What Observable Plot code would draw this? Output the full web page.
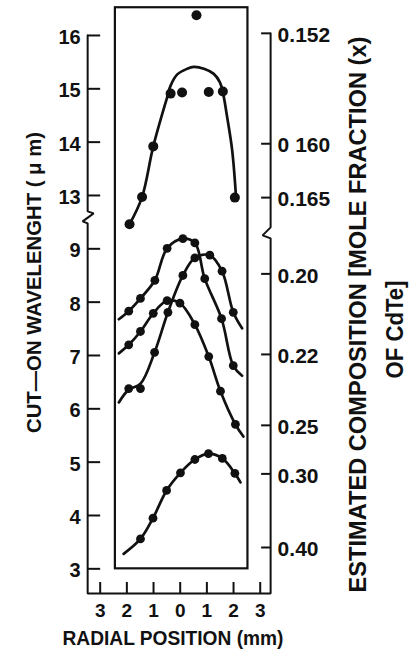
<!DOCTYPE html>
<html><head><meta charset="utf-8">
<script src="https://cdn.jsdelivr.net/npm/d3@7"></script>
<script src="https://cdn.jsdelivr.net/npm/@observablehq/plot@0.6"></script>
<style>
html,body{margin:0;padding:0;background:#fff;}
#chart{width:416px;height:655px;}
</style></head><body><div id="chart"></div>
<script>
// ---------- data ----------
const xTicks = [-3, -2, -1, 0, 1, 2, 3];
const leftTicks = [3, 4, 5, 6, 7, 8, 9, 13, 14, 15, 16];
const rightLabels = ["0.152", "0 160", "0.165", "0.20", "0.22", "0.25", "0.30", "0.40"];
const rightAt = [16.04, 13.97, 12.96, 8.53, 7.02, 5.69, 4.78, 3.40]; // in wavelength units

// top sample (upper, broken segment of the axis)
const topX = [-1.90, -1.43, -1.01, -0.36, 0.07, 0.61, 1.07, 1.60, 2.05];
const topY = [12.46, 12.97, 13.92, 14.91, 14.93, 16.38, 14.94, 14.95, 12.96];
const topFitX = [-1.90, -1.43, -1.01, -0.49, -0.36, -0.11, 0.26, 0.51, 0.89, 1.26, 1.49, 1.61, 1.76, 1.95, 2.10];
const topFitY = [12.46, 12.97, 13.92, 14.84, 15.06, 15.27, 15.375, 15.41, 15.375, 15.28, 15.12, 14.91, 14.47, 13.84, 12.92];

// sample A (peak ~9.2)
const aX = [-1.93, -1.49, -0.95, -0.49, 0.10, 0.55, 0.92, 1.55, 1.99];
const aY = [7.83, 8.07, 8.41, 9.01, 9.19, 9.11, 8.44, 7.69, 6.81];
const aFitX = [-2.30, -1.93, -1.49, -0.95, -0.49, 0.10, 0.55, 0.92, 1.55, 1.99, 2.32];
const aFitY = [7.68, 7.83, 8.07, 8.41, 9.01, 9.19, 9.11, 8.44, 7.69, 6.81, 6.62];

// sample B (peak ~8.9 right of centre)
const bX = [-1.93, -1.49, -0.96, -0.46, 0.10, 0.55, 1.11, 1.57, 1.99];
const bY = [6.38, 6.38, 7.06, 7.81, 8.50, 8.83, 8.88, 8.58, 7.81];
const bFitX = [-2.30, -1.93, -1.49, -0.96, -0.46, 0.10, 0.55, 1.11, 1.57, 1.99, 2.32];
const bFitY = [6.12, 6.36, 6.47, 7.06, 7.81, 8.50, 8.83, 8.88, 8.58, 7.81, 7.51];

// sample C (peak ~8.05)
const cX = [-1.93, -1.49, -1.01, -0.49, -0.01, 0.55, 1.07, 1.51, 2.07];
const cY = [7.20, 7.45, 7.79, 8.03, 7.98, 7.58, 6.98, 6.33, 5.71];
const cFitX = [-2.30, -1.93, -1.49, -1.01, -0.49, -0.01, 0.55, 1.07, 1.51, 2.07, 2.37];
const cFitY = [7.04, 7.20, 7.45, 7.79, 8.03, 7.98, 7.58, 6.98, 6.33, 5.71, 5.48];

// sample D (bottom, peak ~5.2)
const dX = [-1.49, -1.02, -0.51, 0.01, 0.55, 1.06, 1.58, 2.05];
const dY = [3.56, 3.95, 4.47, 4.80, 5.05, 5.16, 5.07, 4.79];
const dFitX = [-2.12, -1.49, -1.02, -0.51, 0.01, 0.55, 1.06, 1.58, 2.05, 2.26];
const dFitY = [3.28, 3.56, 3.95, 4.47, 4.80, 5.05, 5.16, 5.07, 4.79, 4.62];

// ---------- helpers ----------
const FONT = "'Liberation Sans', Arial, Helvetica, sans-serif";
const BREAK = 12, SHIFT = 3;               // values >= 12 µm are drawn on the compressed upper segment
const yPos = v => (v >= BREAK ? v - SHIFT : v);
const rows = (xs, ys, s) => xs.map((x, i) => ({x, y: ys[i], s}));

const pts = [
  ...rows(aX, aY, "A"), ...rows(bX, bY, "B"), ...rows(cX, cY, "C"), ...rows(dX, dY, "D")
];
const topPts = rows(topX, topY, "top");
const fits = [
  ...rows(topFitX, topFitY, "top"), ...rows(aFitX, aFitY, "A"), ...rows(bFitX, bFitY, "B"),
  ...rows(cFitX, cFitY, "C"), ...rows(dFitX, dFitY, "D")
];

// layout constants (data units)
const PXX = 1 / 26.67, PXY = 1 / 53.33;    // one pixel in x / y units
const L = -3.47, R = 3.39;                 // outer axis lines
const AX_BOTTOM = 2.537;                   // bottom axis line
const LEFT_BREAK = 9.59, RIGHT_BREAK = 9.29;
const axisPath = [
  {x: L, y: yPos(16)},
  {x: L, y: LEFT_BREAK + 6 * PXY},
  {x: L + 6 * PXX, y: LEFT_BREAK + 4 * PXY},
  {x: L - 5 * PXX, y: LEFT_BREAK - 4 * PXY},
  {x: L, y: LEFT_BREAK - 6 * PXY},
  {x: L, y: AX_BOTTOM},
  {x: R, y: AX_BOTTOM},
  {x: R, y: RIGHT_BREAK - 5 * PXY},
  {x: R - 8 * PXX, y: RIGHT_BREAK - 2 * PXY},
  {x: R, y: RIGHT_BREAK + 6 * PXY},
  {x: R, y: yPos(rightAt[0])}
];
const box = [{x1: -2.43, x2: 2.54, y1: 3.0, y2: 13.52}];
const INK = "#111";

const T_X = "RADIAL POSITION (mm)";
const T_Y = "CUT\u2014ON WAVELENGHT ( \u03BC m)";
const T_R1 = "ESTIMATED COMPOSITION [MOLE FRACTION (x)";
const T_R2 = "OF CdTe]";

const chart = Plot.plot({
  width: 416, height: 655,
  marginLeft: 86.35, marginRight: 142.95, marginTop: 8.3, marginBottom: 60,
  x: {domain: [-3.5, 3.5], axis: null},
  y: {domain: [2.5, 13.5], axis: null},
  style: {background: "white", fontFamily: FONT, overflow: "visible"},
  marks: [
    Plot.rect(box, {x1: "x1", x2: "x2", y1: "y1", y2: "y2", fill: "none", stroke: INK, strokeWidth: 2.2}),
    Plot.line(axisPath, {x: "x", y: "y", stroke: INK, strokeWidth: 2, strokeLinejoin: "miter"}),
    Plot.ruleY(leftTicks, {y: yPos, x1: L, x2: L + 13 * PXX, stroke: INK, strokeWidth: 2}),
    Plot.ruleY(rightAt, {y: yPos, x1: R - 9 * PXX, x2: R, stroke: INK, strokeWidth: 2}),
    Plot.ruleX(xTicks, {x: d => d, y1: AX_BOTTOM, y2: AX_BOTTOM + 11 * PXY, stroke: INK, strokeWidth: 2}),
    Plot.text(leftTicks, {x: L, y: yPos, text: d => String(d), dx: -7, dy: 2, textAnchor: "end",
      fontSize: 20, fontWeight: "bold", fill: INK}),
    Plot.text(rightLabels, {x: R, y: (d, i) => yPos(rightAt[i]), text: d => d, dx: 7, dy: 2, textAnchor: "start",
      fontSize: 21, fontWeight: "bold", fill: INK}),
    Plot.text(xTicks, {x: d => d, y: AX_BOTTOM, dy: 17, text: d => String(Math.abs(d)),
      fontSize: 19, fontWeight: "bold", fill: INK}),
    Plot.text([T_X], {x: -0.27, y: 1.693, text: d => d, fontSize: 20, fontWeight: "bold", fill: INK}),
    Plot.text([T_Y], {x: -5.463, y: 8.369, text: d => d, rotate: -90,
      fontSize: 19.5, fontWeight: "bold", fill: INK}),
    Plot.text([T_R1], {x: 6.70, y: 7.768, text: d => d, rotate: -90,
      fontSize: 23, fontWeight: "bold", fill: INK}),
    Plot.text([T_R2], {x: 8.07, y: 7.487, text: d => d, rotate: -90,
      fontSize: 23, fontWeight: "bold", fill: INK}),
    Plot.line(fits, {x: "x", y: d => yPos(d.y), z: "s", curve: "catmull-rom", stroke: INK,
      strokeWidth: 2.7, strokeLinecap: "round"}),
    Plot.dot(pts, {x: "x", y: d => yPos(d.y), r: 4.4, fill: INK, stroke: "none"}),
    Plot.dot(topPts, {x: "x", y: d => yPos(d.y), r: 5, fill: INK, stroke: "none"})
  ]
});
// stretch the titles to the lengths they have in the reference
const fitLen = {[T_X]: 221, [T_Y]: 301, [T_R1]: 556, [T_R2]: 98};
chart.querySelectorAll("text").forEach(t => {
  const len = fitLen[t.textContent];
  if (len) { t.setAttribute("textLength", len); t.setAttribute("lengthAdjust", "spacingAndGlyphs"); }
});
document.getElementById("chart").appendChild(chart);
</script></body></html>
